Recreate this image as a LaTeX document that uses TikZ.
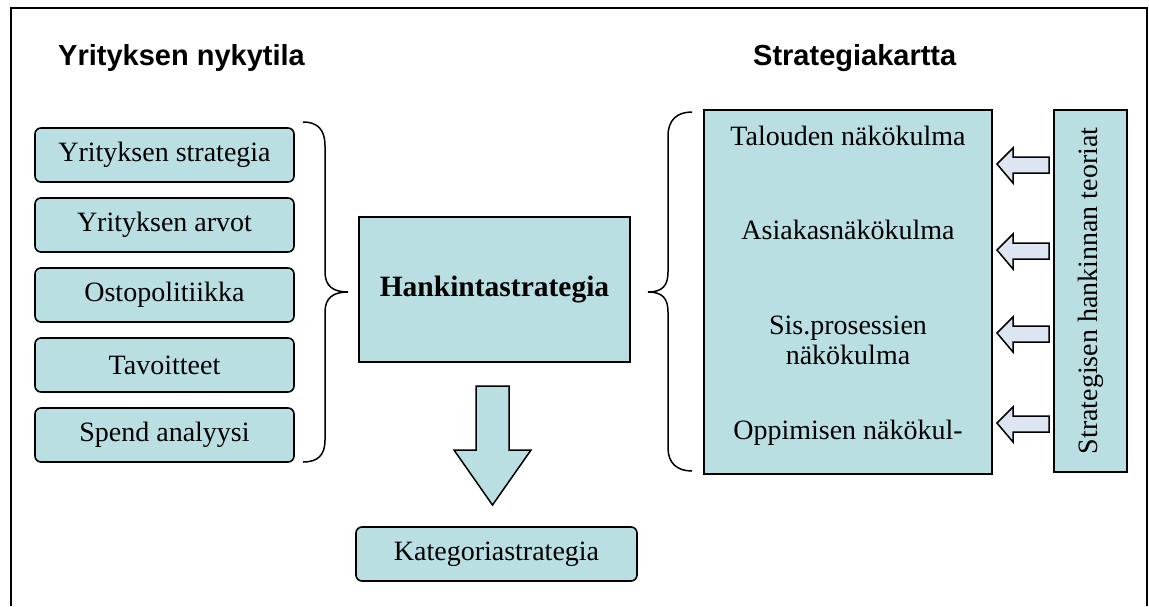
\documentclass[tikz,border=0pt]{standalone}
\usepackage{fontspec}
\setmainfont{Liberation Serif}
\newfontfamily\headfont{Liberation Sans}
\usetikzlibrary{calc}
\definecolor{boxfill}{RGB}{185,223,227}
\definecolor{arrowfill}{RGB}{220,229,241}
\tikzset{
  item/.style={draw, line width=1.6pt, fill=boxfill, rounded corners=6pt,
    minimum width=259pt, minimum height=54pt, inner sep=0pt,
    font=\fontsize{28}{32}\selectfont},
  plainbox/.style={draw, line width=1.6pt, fill=boxfill, inner sep=0pt},
  label/.style={inner sep=0pt, font=\fontsize{28}{30}\selectfont, align=center},
  heading/.style={inner sep=0pt, anchor=west, font=\headfont\bfseries\fontsize{29}{34}\selectfont},
  brace/.style={line width=1.5pt},
  sidearrow/.style={draw, line width=1.5pt, fill=arrowfill, line join=miter},
}
\begin{document}
\begin{tikzpicture}[x=1pt, y=-1pt]
\useasboundingbox (0,0) rectangle (1149,606);

% outer frame, open at the bottom
\draw[line width=1.6pt] (11,606) -- (11,8) -- (1147,8) -- (1147,606);

% headings
\node[heading] (hleft) at (58,58) {Yrityksen nykytila};
\node[heading] (hright) at (753,58) {Strategiakartta};

% current state of the company
\node[item] (s1) at (164.5,155) {Yrityksen strategia};
\node[item] (s2) at (164.5,225) {Yrityksen arvot};
\node[item] (s3) at (164.5,295) {Ostopolitiikka};
\node[item] (s4) at (164.5,365) {Tavoitteet};
\node[item] (s5) at (164.5,435) {Spend analyysi};

% left brace
\draw[brace] (303,122) .. controls (318,122) and (325,130) .. (325,146)
  -- (325,272) .. controls (325,286) and (333,292) .. (348,292)
  .. controls (333,292) and (325,298) .. (325,312)
  -- (325,440) .. controls (325,455) and (318,462) .. (303,462);

% procurement strategy
\node[plainbox, minimum width=271pt, minimum height=145pt,
      font=\bfseries\fontsize{29.5}{34}\selectfont] (hank) at (494.5,289.5) {Hankintastrategia};

% downward block arrow
\draw[line width=1.5pt, fill=boxfill, line join=miter]
  (476,386) -- (509,386) -- (509,450) -- (531,450) -- (492.5,505)
  -- (454,450) -- (476,450) -- cycle;

\node[item, minimum width=281pt, rounded corners=6pt] (kat) at (496.5,554) {Kategoriastrategia};

% right brace
\draw[brace] (692,112) .. controls (677,112) and (668,120) .. (668,136)
  -- (668,272) .. controls (668,286) and (662,292) .. (648,292)
  .. controls (662,292) and (668,298) .. (668,312)
  -- (668,448) .. controls (668,463) and (677,471) .. (692,471);

% strategy map perspectives
\node[plainbox, minimum width=288pt, minimum height=364pt] (map) at (848,292) {};
\node[label] (p1) at (848,136) {Talouden näkökulma};
\node[label] (p2) at (848,230) {Asiakasnäkökulma};
\node[label] (p3) at (848,340) {Sis.prosessien\\näkökulma};
\node[label] (p4) at (848,433) {Oppimisen näkökul-};

% theories column
\node[plainbox, minimum width=73pt, minimum height=362pt] (teo) at (1090.5,291) {};
\node[label, rotate=90] (teotext) at (teo.center) {Strategisen hankinnan teoriat};

% small arrows from the theories to the perspectives
\foreach \yy in {164,250,333,423} {
  \draw[sidearrow] (997,\yy) -- (1013,\yy-16) -- (1013,\yy-7) -- (1049,\yy-7)
    -- (1049,\yy+9) -- (1013,\yy+9) -- (1013,\yy+19) -- cycle;
}
\end{tikzpicture}
\end{document}
